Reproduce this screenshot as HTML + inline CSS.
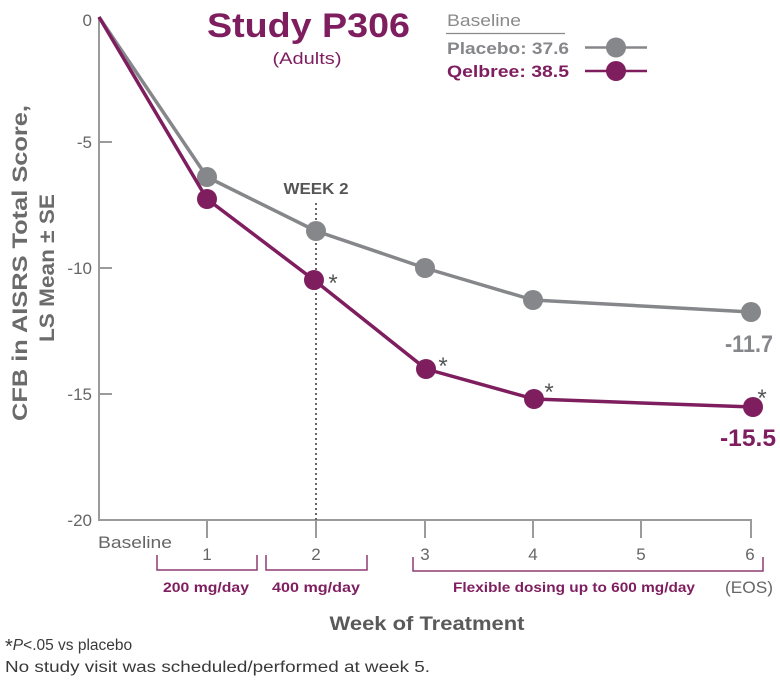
<!DOCTYPE html>
<html><head><meta charset="utf-8"><style>
html,body{margin:0;padding:0;background:#fff;}
svg{display:block;}
text{font-family:"Liberation Sans",sans-serif;}
</style></head><body>
<svg width="780" height="682" viewBox="0 0 780 682" xmlns="http://www.w3.org/2000/svg">
<!-- Title -->
<text x="207" y="37" font-size="34" font-weight="bold" fill="#7e1e5f" textLength="203" lengthAdjust="spacingAndGlyphs">Study P306</text>
<text x="307" y="64" font-size="16.5" fill="#7e1e5f" text-anchor="middle" textLength="69" lengthAdjust="spacingAndGlyphs">(Adults)</text>

<!-- Legend -->
<text x="447" y="26" font-size="17" fill="#8a8a8a" textLength="74" lengthAdjust="spacingAndGlyphs">Baseline</text>
<line x1="446" y1="33.5" x2="565" y2="33.5" stroke="#8a8a8a" stroke-width="1.2"/>
<text x="447" y="54" font-size="17" font-weight="bold" fill="#86878a" textLength="122" lengthAdjust="spacingAndGlyphs">Placebo: 37.6</text>
<text x="447" y="77" font-size="17" font-weight="bold" fill="#7e1e5f" textLength="122" lengthAdjust="spacingAndGlyphs">Qelbree: 38.5</text>
<line x1="585" y1="47.5" x2="647" y2="47.5" stroke="#86878a" stroke-width="2.5"/>
<circle cx="616" cy="47.5" r="10" fill="#86878a"/>
<line x1="585" y1="71" x2="647" y2="71" stroke="#7e1e5f" stroke-width="2.5"/>
<circle cx="616" cy="71" r="10" fill="#7e1e5f"/>

<!-- Y axis label -->
<g transform="translate(27,263) rotate(-90)">
<text x="0" y="0" font-size="21" font-weight="bold" fill="#6b6b6b" text-anchor="middle" textLength="316" lengthAdjust="spacingAndGlyphs">CFB in AISRS Total Score,</text>
</g>
<g transform="translate(54,268) rotate(-90)">
<text x="0" y="0" font-size="21" font-weight="bold" fill="#6b6b6b" text-anchor="middle" textLength="148" lengthAdjust="spacingAndGlyphs">LS Mean ± SE</text>
</g>

<!-- Axes -->
<g stroke="#9b9b9b" stroke-width="2" fill="none">
<line x1="99" y1="17" x2="99" y2="520"/>
<line x1="98" y1="520" x2="752" y2="520"/>
<line x1="99" y1="142" x2="112" y2="142"/>
<line x1="99" y1="268" x2="112" y2="268"/>
<line x1="99" y1="394" x2="112" y2="394"/>
<line x1="207" y1="520" x2="207" y2="538"/>
<line x1="316" y1="520" x2="316" y2="538"/>
<line x1="425" y1="520" x2="425" y2="538"/>
<line x1="533" y1="520" x2="533" y2="538"/>
<line x1="641" y1="520" x2="641" y2="538"/>
<line x1="751" y1="520" x2="751" y2="538"/>
</g>

<!-- Y tick labels -->
<g font-size="17" fill="#666" text-anchor="end">
<text x="92" y="26">0</text>
<text x="92" y="148">-5</text>
<text x="92" y="274">-10</text>
<text x="92" y="400">-15</text>
<text x="92" y="526">-20</text>
</g>

<!-- X tick labels -->
<text x="98" y="548" font-size="17" fill="#666" textLength="74" lengthAdjust="spacingAndGlyphs">Baseline</text>
<g font-size="17" fill="#666" text-anchor="middle">
<text x="207" y="560">1</text>
<text x="316" y="560">2</text>
<text x="425" y="560">3</text>
<text x="533" y="560">4</text>
<text x="641" y="560">5</text>
<text x="750" y="560">6</text>
</g>
<text x="749" y="593" font-size="16.5" fill="#666" text-anchor="middle" textLength="48" lengthAdjust="spacingAndGlyphs">(EOS)</text>

<!-- Brackets -->
<g stroke="#8e3a72" stroke-width="1.5" fill="none">
<polyline points="157,555 157,570 257,570 257,555"/>
<polyline points="266,555 266,570 367,570 367,555"/>
<polyline points="413,557 413,571 763,571 763,557"/>
</g>
<g font-size="13.5" font-weight="bold" fill="#7e1e5f">
<text x="163" y="592" textLength="86" lengthAdjust="spacingAndGlyphs">200 mg/day</text>
<text x="272" y="592" textLength="88" lengthAdjust="spacingAndGlyphs">400 mg/day</text>
<text x="453" y="592" textLength="242" lengthAdjust="spacingAndGlyphs">Flexible dosing up to 600 mg/day</text>
</g>

<text x="427" y="630" font-size="19" font-weight="bold" fill="#5a5a5a" text-anchor="middle" textLength="195" lengthAdjust="spacingAndGlyphs">Week of Treatment</text>

<!-- Footnotes -->
<text x="5" y="650" font-size="15.5" fill="#3a3a3a"><tspan font-size="20" dy="3">*</tspan><tspan font-style="italic" dy="-3">P</tspan>&lt;.05 vs placebo</text>
<text x="5" y="672" font-size="15.5" fill="#3a3a3a" textLength="425" lengthAdjust="spacingAndGlyphs">No study visit was scheduled/performed at week 5.</text>

<!-- Week 2 marker -->
<text x="316" y="194" font-size="16" font-weight="bold" fill="#555" text-anchor="middle" textLength="65" lengthAdjust="spacingAndGlyphs">WEEK 2</text>
<line x1="316" y1="203" x2="316" y2="520" stroke="#666" stroke-width="2" stroke-dasharray="2,3"/>

<!-- Placebo series -->
<polyline points="99,17 207,177 316,231 425,268 533,300 751,312" fill="none" stroke="#86878a" stroke-width="3.5" stroke-linejoin="round"/>
<g fill="#86878a">
<circle cx="207" cy="177" r="10"/>
<circle cx="316" cy="231" r="10"/>
<circle cx="425" cy="268" r="10"/>
<circle cx="533" cy="300" r="10"/>
<circle cx="751" cy="312" r="10"/>
</g>

<!-- Qelbree series -->
<polyline points="99,17 207,199 314,280 426,369 534,399 753,407" fill="none" stroke="#7e1e5f" stroke-width="3.5" stroke-linejoin="round"/>
<g fill="#7e1e5f">
<circle cx="207" cy="199" r="10"/>
<circle cx="314" cy="280" r="10"/>
<circle cx="426" cy="369" r="10"/>
<circle cx="534" cy="399" r="10"/>
<circle cx="753" cy="407" r="10"/>
</g>

<!-- Asterisks -->
<g font-size="24" fill="#555" text-anchor="middle">
<text x="333" y="291">*</text>
<text x="443" y="374">*</text>
<text x="549" y="400">*</text>
<text x="762" y="406">*</text>
</g>

<!-- Value labels -->
<text x="773" y="352" font-size="24" font-weight="bold" fill="#86878a" text-anchor="end" textLength="48" lengthAdjust="spacingAndGlyphs">-11.7</text>
<text x="776" y="446" font-size="24" font-weight="bold" fill="#7e1e5f" text-anchor="end" textLength="56" lengthAdjust="spacingAndGlyphs">-15.5</text>
</svg>
</body></html>
